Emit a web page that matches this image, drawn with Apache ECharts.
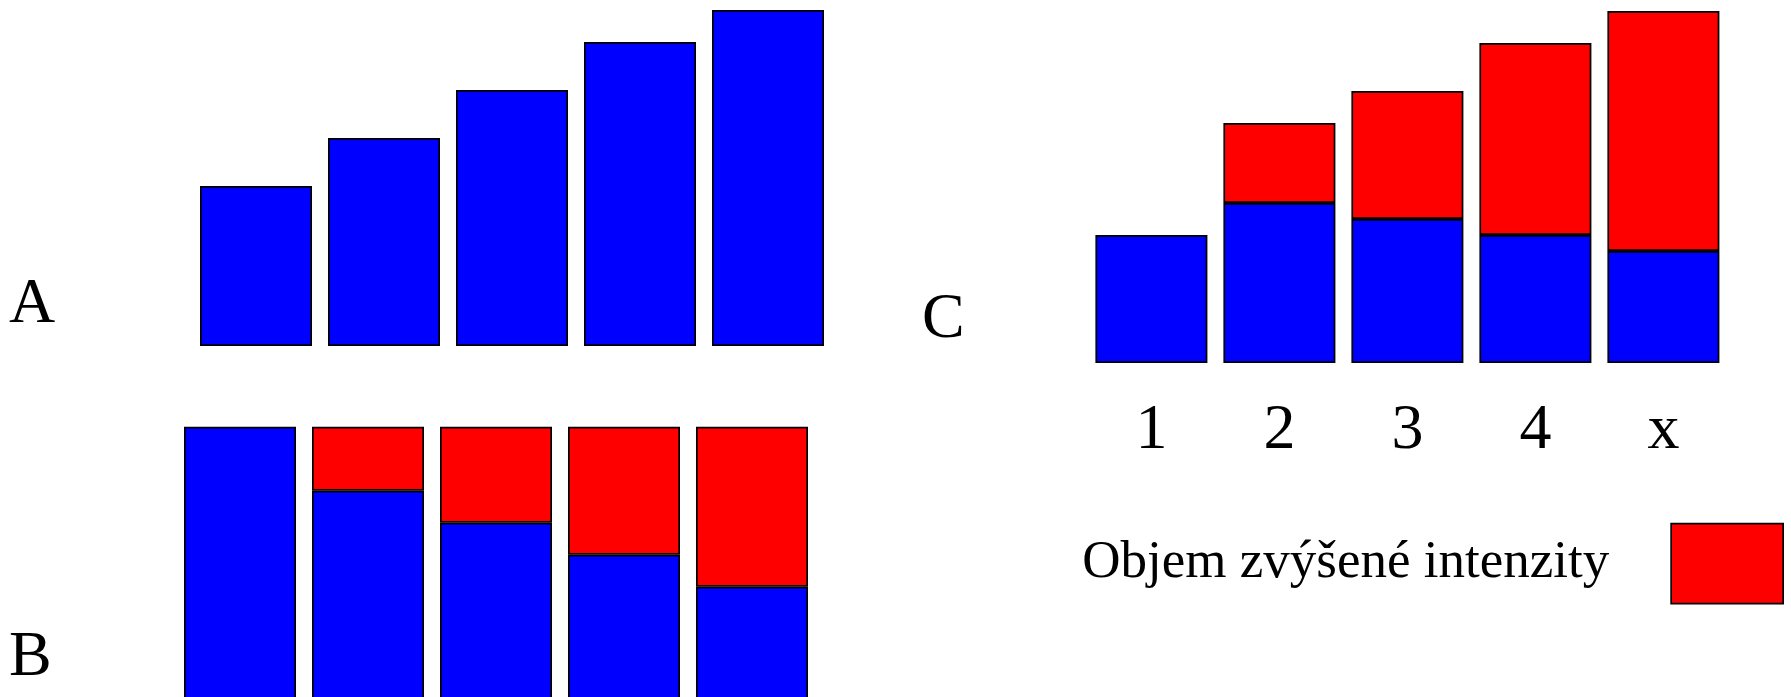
<!DOCTYPE html>
<html>
<head>
<meta charset="utf-8">
<script src="https://cdn.jsdelivr.net/npm/echarts@6/dist/echarts.min.js"></script>
<style>
html,body{margin:0;padding:0;background:#fff;}
#chart{width:1791px;height:697px;}
</style>
</head>
<body>
<div id="chart"></div>
<script>
const categories = ['1', '2', '3', '4', 'x'];
const panelA = [10, 13, 16, 19, 21];
const panelBBase = [20, 16, 14, 12, 10];
const panelBExtra = [0, 4, 6, 8, 10];
const panelCBase = [8, 10, 9, 8, 7];
const panelCExtra = [0, 5, 8, 12, 15];
const panelLetters = ['A', 'B', 'C'];
const legendName = 'Objem zvýšené intenzity';

const FONT = '"Liberation Serif", "Times New Roman", serif';
const BLUE = '#0000ff';
const RED = '#ff0000';
const itemStyle = (c) => ({ color: c, borderColor: '#000', borderWidth: 1.7 });
const nz = (arr) => arr.map(v => (v === 0 ? '-' : v));

const chart = echarts.init(document.getElementById('chart'), null, { renderer: 'canvas' });

const grids = [
  { left: 192, top: 10, width: 640, height: 336, outerBoundsMode: 'none' },
  { left: 176, top: 426.7, width: 640, height: 320, outerBoundsMode: 'none' },
  { left: 1087.4, top: 11, width: 640, height: 352, outerBoundsMode: 'none' }
];
const yMax = [21, 20, 22];

const option = {
  backgroundColor: '#ffffff',
  animation: false,
  grid: grids,
  xAxis: grids.map((g, i) => ({
    type: 'category',
    gridIndex: i,
    data: categories,
    axisLine: { show: false },
    axisTick: { show: false },
    splitLine: { show: false },
    axisLabel: {
      show: i === 2,
      margin: 36,
      verticalAlign: 'top',
      lineHeight: 64,
      fontFamily: FONT,
      fontSize: 64,
      color: '#000'
    }
  })),
  yAxis: grids.map((g, i) => ({
    type: 'value',
    gridIndex: i,
    min: 0,
    max: yMax[i],
    show: false,
    splitLine: { show: false }
  })),
  legend: {
    data: [legendName],
    right: 7,
    top: 522.7,
    padding: 0,
    align: 'right',
    itemWidth: 112,
    itemHeight: 80,
    icon: 'rect',
    selectedMode: false,
    itemStyle: { color: RED, borderColor: '#000', borderWidth: 1.7 },
    textStyle: {
      fontFamily: FONT,
      fontSize: 53,
      color: '#000',
      padding: [24, 57, 0, 0]
    }
  },
  series: [
    { name: 'A', type: 'bar', xAxisIndex: 0, yAxisIndex: 0, barWidth: 112,
      data: panelA, itemStyle: itemStyle(BLUE) },
    { name: 'B-base', type: 'bar', xAxisIndex: 1, yAxisIndex: 1, stack: 'b', barWidth: 112,
      data: panelBBase, itemStyle: itemStyle(BLUE) },
    { name: legendName, type: 'bar', xAxisIndex: 1, yAxisIndex: 1, stack: 'b', barWidth: 112,
      data: nz(panelBExtra), itemStyle: itemStyle(RED) },
    { name: 'C-base', type: 'bar', xAxisIndex: 2, yAxisIndex: 2, stack: 'c', barWidth: 112,
      data: panelCBase, itemStyle: itemStyle(BLUE) },
    { name: legendName, type: 'bar', xAxisIndex: 2, yAxisIndex: 2, stack: 'c', barWidth: 112,
      data: nz(panelCExtra), itemStyle: itemStyle(RED) }
  ],
  graphic: [
    { type: 'text', x: 9, y: 305, style: { text: panelLetters[0], font: '64px ' + FONT, fill: '#000', verticalAlign: 'middle' } },
    { type: 'text', x: 9, y: 658, style: { text: panelLetters[1], font: '64px ' + FONT, fill: '#000', verticalAlign: 'middle' } },
    { type: 'text', x: 922, y: 320, style: { text: panelLetters[2], font: '64px ' + FONT, fill: '#000', verticalAlign: 'middle' } }
  ]
};

chart.setOption(option);
</script>
</body>
</html>
